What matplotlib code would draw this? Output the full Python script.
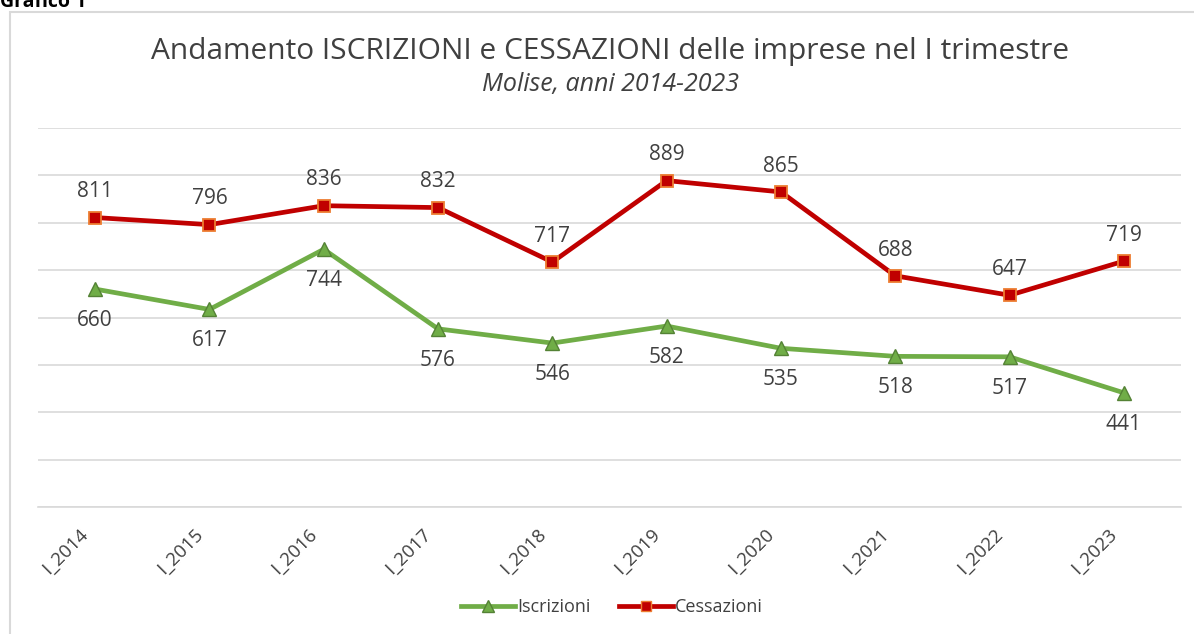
import matplotlib
matplotlib.use("Agg")
import matplotlib.pyplot as plt
from matplotlib.patches import Rectangle
from matplotlib.lines import Line2D
from matplotlib.transforms import ScaledTranslation

categories = ["I_2014", "I_2015", "I_2016", "I_2017", "I_2018",
              "I_2019", "I_2020", "I_2021", "I_2022", "I_2023"]
iscrizioni = [660, 617, 744, 576, 546, 582, 535, 518, 517, 441]
cessazioni = [811, 796, 836, 832, 717, 889, 865, 688, 647, 719]

W, H = 1194, 634
fig = plt.figure(figsize=(W / 100, H / 100), dpi=100)
fig.patch.set_facecolor("white")

def fx(px):
    return px / W

def fy(py):
    return 1 - py / H

# outer frame
fig.patches.append(Rectangle((fx(10), fy(700)), fx(1200) - fx(10), fy(12) - fy(700),
                             transform=fig.transFigure, fill=False,
                             edgecolor="#D9D9D9", linewidth=1.5))
fig.text(fx(0), fy(7), "Grafico 1", fontsize=14, fontweight="bold",
         family="Open Sans", color="black", ha="left", va="baseline")

ax = fig.add_axes([fx(38), fy(507), fx(1181) - fx(38), fy(128) - fy(507)])
x = list(range(len(categories)))

ax.plot(x, iscrizioni, color="#70AD47", linewidth=3.4, marker="^", markersize=10,
        markerfacecolor="#70AD47", markeredgecolor="#548235", markeredgewidth=1,
        label="Iscrizioni", zorder=3)
ax.plot(x, cessazioni, color="#C00000", linewidth=3.4, marker="s", markersize=8.5,
        markerfacecolor="#C00000", markeredgecolor="#ED7D31", markeredgewidth=1.3,
        label="Cessazioni", zorder=3)

for xi, v in zip(x, cessazioni):
    ax.annotate(str(v), (xi, v), xytext=(0, 11), textcoords="offset points",
                ha="center", va="bottom", fontsize=15, color="#404040",
                family="Open Sans")
for xi, v in zip(x, iscrizioni):
    ax.annotate(str(v), (xi, v), xytext=(0, -15), textcoords="offset points",
                ha="center", va="top", fontsize=15, color="#404040",
                family="Open Sans")

ax.set_xlim(-0.5, len(categories) - 0.5)
ax.set_ylim(200, 1000)
ax.set_yticks(range(200, 1001, 100))
ax.yaxis.grid(True, color="#D9D9D9", linewidth=1.2)
ax.set_axisbelow(True)
ax.tick_params(axis="y", left=False, labelleft=False)
ax.tick_params(axis="x", length=0, pad=13)
ax.set_xticks(x)
ax.set_xticklabels(categories, rotation=45, ha="right", rotation_mode="anchor",
                   fontsize=13.5, color="#404040", family="Open Sans")
shift = ScaledTranslation(-16 / 100, 0, fig.dpi_scale_trans)
for lbl in ax.get_xticklabels():
    lbl.set_transform(lbl.get_transform() + shift)
for s in ["top", "right", "left"]:
    ax.spines[s].set_visible(False)
ax.spines["bottom"].set_color("#D9D9D9")
ax.spines["bottom"].set_linewidth(1.2)

fig.text(fx(610), fy(51), "Andamento ISCRIZIONI e CESSAZIONI delle imprese nel I trimestre",
         ha="center", va="center", fontsize=21.5, color="#404040", family="Open Sans")
fig.text(fx(610), fy(85), "Molise, anni 2014-2023", ha="center", va="center",
         fontsize=18, style="italic", color="#404040", family="Open Sans")

handles = [
    Line2D([], [], color="#70AD47", linewidth=3.4, marker="^", markersize=8,
           markerfacecolor="#70AD47", markeredgecolor="#548235"),
    Line2D([], [], color="#C00000", linewidth=3.4, marker="s", markersize=7,
           markerfacecolor="#C00000", markeredgecolor="#ED7D31"),
]
leg = fig.legend(handles, ["Iscrizioni", "Cessazioni"], loc="center",
                 bbox_to_anchor=(fx(612), fy(607)), ncol=2, frameon=False,
                 handlelength=3.0, handletextpad=0.1, columnspacing=1.6,
                 prop={"family": "Open Sans", "size": 13})
for t in leg.get_texts():
    t.set_color("#404040")

fig.savefig("out.png", dpi=100)
